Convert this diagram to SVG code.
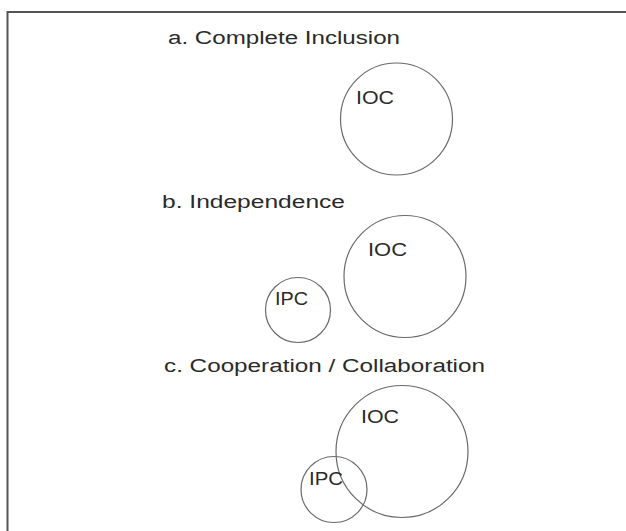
<svg xmlns="http://www.w3.org/2000/svg" width="626" height="531" viewBox="0 0 626 531">
  <style>
    .title { font-family: "Liberation Sans", Arial, sans-serif; font-size: 18px; fill: #2a2a2a; }
    .lbl { font-family: "Liberation Sans", Arial, sans-serif; font-size: 19px; fill: #2a2a2a; }
    .set { fill: none; stroke: #6a6a6a; stroke-width: 1.2; }
    .frame { fill: none; stroke: #555; stroke-width: 2; }
  </style>
  <rect width="626" height="531" fill="#ffffff"/>
  <path class="frame" d="M7.5 531 V12 H626"/>

  <g id="section-a">
    <text class="title" x="168" y="44" textLength="232" lengthAdjust="spacingAndGlyphs">a. Complete Inclusion</text>
    <g id="a-ioc">
      <circle class="set" cx="396.5" cy="119" r="56"/>
      <text class="lbl" x="356" y="104" textLength="38" lengthAdjust="spacingAndGlyphs">IOC</text>
    </g>
  </g>

  <g id="section-b">
    <text class="title" x="162" y="208" textLength="183" lengthAdjust="spacingAndGlyphs">b. Independence</text>
    <g id="b-ioc">
      <circle class="set" cx="405" cy="276.5" r="61"/>
      <text class="lbl" x="368" y="256" textLength="39" lengthAdjust="spacingAndGlyphs">IOC</text>
    </g>
    <g id="b-ipc">
      <circle class="set" cx="298" cy="310" r="32.5"/>
      <text class="lbl" x="275" y="305" textLength="33" lengthAdjust="spacingAndGlyphs">IPC</text>
    </g>
  </g>

  <g id="section-c">
    <text class="title" x="164" y="372" textLength="321" lengthAdjust="spacingAndGlyphs">c. Cooperation / Collaboration</text>
    <g id="c-ioc">
      <circle class="set" cx="402" cy="451.5" r="66"/>
      <text class="lbl" x="361" y="423" textLength="38" lengthAdjust="spacingAndGlyphs">IOC</text>
    </g>
    <g id="c-ipc">
      <circle class="set" cx="334" cy="489.5" r="33"/>
      <text class="lbl" x="309" y="485" textLength="34" lengthAdjust="spacingAndGlyphs">IPC</text>
    </g>
  </g>

  <g id="connectors"></g>
</svg>
